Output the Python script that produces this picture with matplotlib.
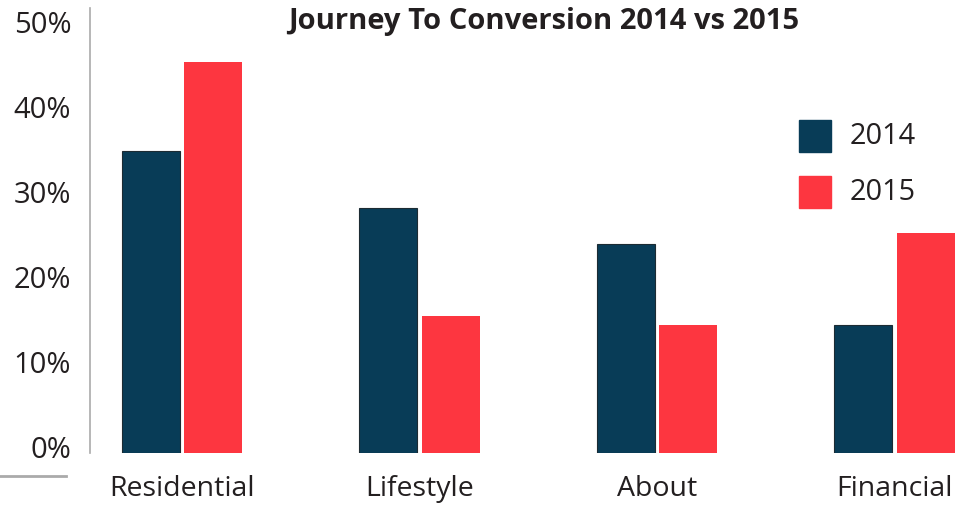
import matplotlib
matplotlib.use("Agg")
import matplotlib.pyplot as plt
import matplotlib.transforms as mtransforms
from matplotlib.patches import Rectangle
from matplotlib.lines import Line2D
import numpy as np

categories = ["Residential", "Lifestyle", "About", "Financial"]
series_names = ["2014", "2015"]
values_2014 = [35.5, 28.8, 24.6, 15.1]
values_2015 = [46.0, 16.1, 15.1, 25.9]
yticks = [0, 10, 20, 30, 40, 50]
ytick_labels = ["0%", "10%", "20%", "30%", "40%", "50%"]
title = "Journey To Conversion 2014 vs 2015"

c2014 = "#083c57"
c2015 = "#fd3640"
text_color = "#231f20"
axis_gray = "#aaaaaa"

plt.rcParams['font.family'] = ['Open Sans', 'DejaVu Sans']

W, H = 964, 506
fig = plt.figure(figsize=(W / 100, H / 100), dpi=100)
ax = fig.add_axes([90 / W, (H - 454) / H, 868.6 / W, 445 / H])

x = np.arange(len(categories))
bw = 0.244
off = 0.132
ax.bar(x - off, values_2014, bw, color=c2014, edgecolor="#1c2b33", linewidth=0.8)
ax.bar(x + off, values_2015, bw, color=c2015, linewidth=0)

ax.set_xlim(-0.387, 3.27)
ax.set_ylim(0, 52.35)

for s in ["top", "right", "bottom"]:
    ax.spines[s].set_visible(False)
ax.spines["left"].set_color(axis_gray)
ax.spines["left"].set_linewidth(1.2)

ax.set_xticks(x)
ax.set_xticklabels(categories, fontsize=20.5, color=text_color)
ax.set_yticks(yticks)
ax.set_yticklabels(ytick_labels, fontsize=21, color=text_color)
ax.tick_params(axis="both", length=0)
ax.tick_params(axis="x", pad=15)
ax.tick_params(axis="y", pad=13.5)

shift = mtransforms.ScaledTranslation(0, 7 / 100, fig.dpi_scale_trans)
for lbl in ax.get_yticklabels():
    lbl.set_transform(lbl.get_transform() + shift)

fig.text(544 / W, 1 - 22 / H, title, ha="center", va="center",
         fontsize=21, fontweight="bold", color=text_color)

# legend
for i, (name, col) in enumerate(zip(series_names, [c2014, c2015])):
    top = 121 + i * 56
    fig.add_artist(Rectangle((799 / W, 1 - (top + 32) / H), 32 / W, 32 / H,
                             transform=fig.transFigure, color=col))
    fig.text(850 / W, 1 - (top + 16) / H, name, ha="left", va="center",
             fontsize=20.8, color=text_color)

# small gray rule bottom-left
fig.add_artist(Line2D([0, 66 / W], [1 - 477 / H, 1 - 477 / H],
                      transform=fig.transFigure, color=axis_gray, linewidth=2))

fig.savefig("out.png", dpi=100)
